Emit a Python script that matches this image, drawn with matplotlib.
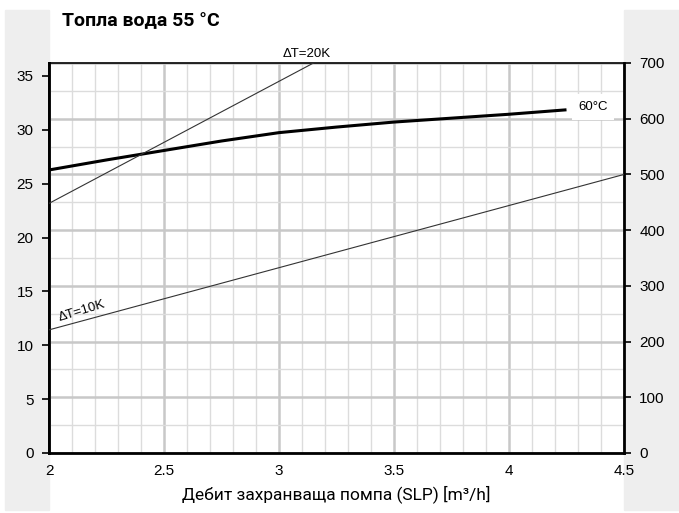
import matplotlib
matplotlib.use("Agg")
import matplotlib.pyplot as plt
from matplotlib.patches import Rectangle
from matplotlib.ticker import MultipleLocator

# Flow rate of the feed pump (m3/h)
flow_60 = [2.0, 2.25, 2.5, 2.75, 3.0, 3.25, 3.5, 3.75, 4.0, 4.25]
power_60 = [508, 526, 543, 560, 575, 585, 594, 601, 608, 616]

flow_dt10 = [2.0, 4.5]
power_dt10 = [221, 500]

flow_dt20 = [2.0, 3.15]
power_dt20 = [448, 700]

left_ticks = [0, 5, 10, 15, 20, 25, 30, 35]
right_ticks = [0, 100, 200, 300, 400, 500, 600, 700]
x_ticks = [2, 2.5, 3, 3.5, 4, 4.5]
left_max = 36.2
right_max = 700

W, H = 679, 513
fig = plt.figure(figsize=(W / 100, H / 100), dpi=100)

# grey side bands
fig.patches.append(Rectangle((5 / W, 1 - 510 / H), 44 / W, 500 / H,
                             transform=fig.transFigure, color="#eeeeee", zorder=-10))
fig.patches.append(Rectangle((624 / W, 1 - 510 / H), 55 / W, 500 / H,
                             transform=fig.transFigure, color="#eeeeee", zorder=-10))

ax = fig.add_axes([49 / W, 1 - 453 / H, 575 / W, 390 / H])
ax.set_facecolor("white")
ax.set_xlim(2, 4.5)
ax.set_ylim(0, right_max)

# grid
ax.xaxis.set_major_locator(MultipleLocator(0.5))
ax.xaxis.set_minor_locator(MultipleLocator(0.1))
ax.yaxis.set_major_locator(MultipleLocator(100))
ax.yaxis.set_minor_locator(MultipleLocator(50))
ax.grid(which="major", color="#c8c8c8", linewidth=1.8)
ax.grid(which="minor", color="#dcdcdc", linewidth=1.0)
ax.set_axisbelow(True)

# curves
ax.plot(flow_60, power_60, color="black", linewidth=2.2, solid_capstyle="butt", zorder=3)
ax.plot(flow_dt10, power_dt10, color="#333333", linewidth=0.8, zorder=3)
ax.plot(flow_dt20, power_dt20, color="#333333", linewidth=0.8, zorder=3)

tick_font = dict(family="Liberation Sans", size=11)

# right axis (power)
ax.yaxis.tick_right()
ax.set_yticks(right_ticks)
ax.set_yticklabels([str(v) for v in right_ticks], **tick_font)
ax.tick_params(axis="y", which="major", direction="out", length=5, width=1.2, pad=6, colors="black")
ax.tick_params(axis="y", which="minor", length=0)

# left axis (secondary scale)
sec = ax.secondary_yaxis("left", functions=(lambda v: v * left_max / right_max,
                                             lambda v: v * right_max / left_max))
sec.set_yticks(left_ticks)
sec.set_yticklabels([str(v) for v in left_ticks], **tick_font)
sec.tick_params(axis="y", direction="out", length=5, width=1.2, pad=6)
sec.spines["left"].set_linewidth(2)

ax.set_xticks(x_ticks)
ax.set_xticklabels(["2", "2.5", "3", "3.5", "4", "4.5"], **tick_font)
ax.tick_params(axis="x", which="both", length=0, pad=8)

for side in ["left", "bottom", "right"]:
    ax.spines[side].set_linewidth(2)
ax.spines["top"].set_linewidth(1.2)

ax.set_xlabel("Дебит захранваща помпа (SLP) [m³/h]",
              family="Roboto", fontsize=12.5, labelpad=5)

fig.text(62 / W, 1 - 21 / H, "Топла вода 55 °C", family="Roboto",
         fontsize=14, fontweight="bold", va="center", ha="left")

# line labels
ax.text(3.12, 705, "ΔT=20K", family="Liberation Sans", fontsize=9.5,
        ha="center", va="bottom", clip_on=False)
ax.text(2.05, 232, "ΔT=10K", family="Liberation Sans", fontsize=9.5,
        ha="left", va="bottom", rotation=17, rotation_mode="anchor")
ax.text(4.365, 621, "60°C", family="Liberation Sans", fontsize=9.5,
        ha="center", va="center", zorder=4,
        bbox=dict(boxstyle="square,pad=0.5", facecolor="white", edgecolor="none"))

fig.savefig("out.png", dpi=100)
